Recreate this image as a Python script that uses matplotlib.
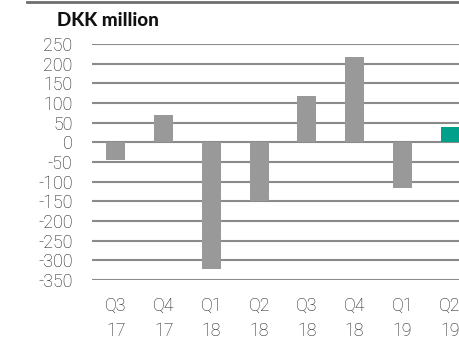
import matplotlib.pyplot as plt
from matplotlib.lines import Line2D

quarters = ["Q3\n17", "Q4\n17", "Q1\n18", "Q2\n18", "Q3\n18", "Q4\n18", "Q1\n19", "Q2\n19"]
values = [-46, 70, -321, -148, 117, 217, -115, 38]
colors = ["#999999"] * 7 + ["#00a08a"]
yticks = list(range(250, -351, -50))

plt.rcParams['font.family'] = ['Roboto', 'DejaVu Sans']

W, H = 459, 340
fig = plt.figure(figsize=(W / 100, H / 100), dpi=100)

# plot area runs off the right edge so the last bar is cut
left, right = 92, 474
top, bottom = 44, 280
ax = fig.add_axes([left / W, 1 - bottom / H, (right - left) / W, (bottom - top) / H])

x = list(range(len(values)))
ax.bar(x, values, width=0.4, color=colors, zorder=3)

ax.set_xlim(-0.5, len(values) - 0.5)
ax.set_ylim(-350, 250)
ax.set_yticks(yticks)
ax.set_yticklabels([str(v) for v in yticks], fontsize=12.8, color="#1a1a1a",
                   fontweight='light')
ax.set_xticks(x)
ax.set_xticklabels(quarters, fontsize=12.8, color="#1a1a1a", linespacing=1.5,
                   fontweight='light')
ax.tick_params(length=0)
ax.tick_params(axis='y', pad=14)
ax.tick_params(axis='x', pad=12)
for s in ax.spines.values():
    s.set_visible(False)
ax.grid(axis='y', color="#8a8a8a", linewidth=1.5, zorder=0)
ax.set_axisbelow(True)

fig.text(57 / W, 1 - 20 / H, "DKK million", fontsize=13.5, fontweight='black',
         family=['Lato', 'DejaVu Sans'], va='center', ha='left', color="#111111")
fig.add_artist(Line2D([27 / W, 1], [1 - 2 / H, 1 - 2 / H], color="#6e6e6e",
                      linewidth=2, transform=fig.transFigure))

fig.savefig("out.png", dpi=100)
